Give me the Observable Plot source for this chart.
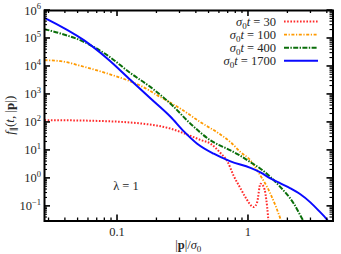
<!DOCTYPE html>
<html><head><meta charset="utf-8">
<script src="https://cdn.jsdelivr.net/npm/d3@7"></script>
<script src="https://cdn.jsdelivr.net/npm/@observablehq/plot@0.6"></script>
<style>body{margin:0;background:#fff} svg{display:block}</style>
</head><body><div id="chart"></div>
<script>
// ---- data ----
const seriesLabels = ["30", "100", "400", "1700"];

const x30 = [0.0277, 0.0622, 0.150, 0.254, 0.361, 0.430, 0.513, 0.611, 0.691, 0.768, 0.869, 0.949, 1.098, 1.165, 1.235, 1.309, 1.389, 1.43];
const y30 = [121, 115, 92, 60, 33, 23.7, 17.4, 8.1, 4.05, 1.28, 0.44, 0.21, 0.094, 0.142, 0.647, 0.489, 0.094, 0.02];

const x100 = [0.0277, 0.0367, 0.0553, 0.0834, 0.1186, 0.150, 0.213, 0.303, 0.430, 0.611, 0.729, 0.869, 1.036, 1.165, 1.47, 1.754, 1.9];
const y100 = [16800, 15500, 9760, 5620, 3240, 2050, 801, 309, 102, 37, 19.8, 8.7, 4.4, 1.93, 0.284, 0.036, 0.012];

const x400 = [0.0277, 0.0367, 0.0553, 0.0834, 0.1257, 0.179, 0.254, 0.361, 0.513, 0.729, 0.869, 1.036, 1.235, 1.754, 2.22, 2.57, 2.8];
const y400 = [215000, 151000, 76200, 25300, 5770, 1820, 466, 90, 22.8, 10, 6.4, 3.8, 2.22, 0.49, 0.125, 0.036, 0.018];

const x1700 = [0.0277, 0.0553, 0.0834, 0.1257, 0.179, 0.254, 0.321, 0.406, 0.543, 0.729, 1.036, 1.235, 1.47, 1.754, 2.09, 2.49, 2.97, 3.42, 4.01, 4.5];
const y1700 = [548000, 86900, 19300, 3300, 720, 160, 48, 17.4, 7.6, 4.05, 2.37, 1.64, 1.0, 0.66, 0.44, 0.27, 0.139, 0.072, 0.032, 0.013];

const xMajorTicks = [0.1, 1];
const xTickLabels = ["0.1", "1"];
const xMinorTicks = [0.03, 0.04, 0.05, 0.06, 0.07, 0.08, 0.09, 0.2, 0.3, 0.4, 0.5, 0.6, 0.7, 0.8, 0.9, 2, 3, 4];
const yMajorTicks = [0.1, 1, 10, 100, 1e3, 1e4, 1e5, 1e6];
const yTickExponents = ["−1", "0", "1", "2", "3", "4", "5", "6"];
const yMinorMantissas = [2, 3, 4, 5, 6, 7, 8, 9];
const yMinorDecades = [0.01, 0.1, 1, 10, 100, 1e3, 1e4, 1e5];

const lambdaLabel = "λ = 1";

// ---- build ----
const rows = (xs, ys) => xs.map((x, i) => ({x, y: ys[i]}));
const seriesData = [rows(x30, y30), rows(x100, y100), rows(x400, y400), rows(x1700, y1700)];
const seriesStyle = [
  {stroke: "#ff2a2a", strokeWidth: 2, dash: "1.6,1.6"},
  {stroke: "#ff9a00", strokeWidth: 1.8, dash: "3,1.6,1.2,1.6"},
  {stroke: "#0a6e0a", strokeWidth: 2, dash: "5,1.4,1.4,1.4"},
  {stroke: "#0a0aff", strokeWidth: 2, dash: "none"}
];

const W = 341, H = 254;
const mL = 44, mR = 8.5, mT = 10, mB = 33.5;

const chart = Plot.plot({
  width: W, height: H,
  marginLeft: mL, marginRight: mR, marginTop: mT, marginBottom: mB,
  style: {background: "white", fontFamily: "Liberation Serif"},
  x: {type: "log", domain: [0.0277, 4.42], axis: null},
  y: {type: "log", domain: [0.03, 1e6], axis: null},
  marks: [
    ...seriesData.map((d, i) => Plot.line(d, {
      x: "x", y: "y",
      stroke: seriesStyle[i].stroke, strokeWidth: seriesStyle[i].strokeWidth,
      strokeDasharray: seriesStyle[i].dash === "none" ? undefined : seriesStyle[i].dash,
      strokeLinecap: "butt", strokeLinejoin: "round",
      curve: "monotone-x", clip: true
    })),
    Plot.frame({stroke: "#000", strokeWidth: 2})
  ]
});

const svg = d3.select(chart);
const sx = chart.scale("x"), sy = chart.scale("y");
const fL = mL, fR = W - mR, fT = mT, fB = H - mB;
const g = svg.append("g").attr("stroke", "#000").attr("fill", "none");

function xTick(v, len, w) {
  const px = sx.apply(v);
  g.append("line").attr("x1", px).attr("x2", px).attr("y1", fB).attr("y2", fB - len).attr("stroke-width", w);
  g.append("line").attr("x1", px).attr("x2", px).attr("y1", fT).attr("y2", fT + len).attr("stroke-width", w);
}
function yTick(v, len, w) {
  const py = sy.apply(v);
  g.append("line").attr("y1", py).attr("y2", py).attr("x1", fL).attr("x2", fL + len).attr("stroke-width", w);
  g.append("line").attr("y1", py).attr("y2", py).attr("x1", fR).attr("x2", fR - len).attr("stroke-width", w);
}
xMinorTicks.forEach(v => xTick(v, 3, 1.3));
xMajorTicks.forEach(v => xTick(v, 6, 1.6));
yMinorDecades.forEach(d => yMinorMantissas.forEach(m => {
  const v = d * m;
  if (v > 0.03 && v < 1e6) yTick(v, 3, 1.1);
}));
yMajorTicks.forEach(v => yTick(v, 6, 1.6));

const txt = svg.append("g").attr("fill", "#262626").style("font-family", "'Liberation Serif', 'DejaVu Serif', serif").attr("font-size", 12.5);

// y tick labels
yMajorTicks.forEach((v, i) => {
  const t = txt.append("text").attr("x", 41).attr("y", sy.apply(v) + 4.5).attr("text-anchor", "end");
  t.append("tspan").text("10");
  t.append("tspan").attr("dy", -5.5).attr("font-size", 8.5).text(yTickExponents[i]);
});
// x tick labels
xMajorTicks.forEach((v, i) => {
  txt.append("text").attr("x", sx.apply(v)).attr("y", 236).attr("text-anchor", "middle").text(xTickLabels[i]);
});

// x axis label
{
  const t = txt.append("text").attr("x", (fL + fR) / 2).attr("y", 249).attr("text-anchor", "middle");
  t.append("tspan").text("|");
  t.append("tspan").attr("font-weight", "bold").text("p");
  t.append("tspan").text("|/");
  t.append("tspan").attr("font-style", "italic").text("σ");
  t.append("tspan").attr("dy", 3).attr("font-size", 9).text("0");
}
// y axis label
{
  const t = txt.append("text").attr("transform", `translate(14,${(fT + fB) / 2}) rotate(-90)`).attr("text-anchor", "middle").attr("font-size", 13);
  t.append("tspan").attr("font-style", "italic").text("f");
  t.append("tspan").attr("dy", 3).attr("font-size", 9).text("∥");
  t.append("tspan").attr("dy", -3).text("(");
  t.append("tspan").attr("font-style", "italic").text("t");
  t.append("tspan").text(", |");
  t.append("tspan").attr("font-weight", "bold").text("p");
  t.append("tspan").text("|)");
}
// lambda annotation
txt.append("text").attr("x", 126).attr("y", 190).attr("text-anchor", "middle").text(lambdaLabel);

// legend
seriesLabels.forEach((lab, i) => {
  const base = 25.5 + 13.1 * i;
  const t = txt.append("text").attr("x", 276).attr("y", base).attr("text-anchor", "end");
  t.append("tspan").attr("font-style", "italic").text("σ");
  t.append("tspan").attr("dy", 3).attr("font-size", 9).text("0");
  t.append("tspan").attr("dy", -3).attr("font-style", "italic").text("t");
  t.append("tspan").text(" = " + lab);
  const s = seriesStyle[i];
  svg.append("line").attr("x1", 284).attr("x2", 318).attr("y1", base - 4).attr("y2", base - 4)
    .attr("stroke", s.stroke).attr("stroke-width", s.strokeWidth).attr("stroke-dasharray", s.dash);
});

document.getElementById("chart").appendChild(chart);
</script>
</body></html>
